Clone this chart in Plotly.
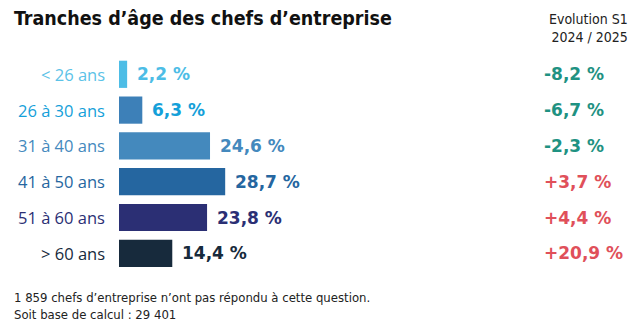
import plotly.graph_objects as go

# Age bands of company heads, share of respondents and change S1 2024 -> S1 2025
categories = ["< 26 ans", "26 à 30 ans", "31 à 40 ans", "41 à 50 ans", "51 à 60 ans", "> 60 ans"]
shares = [2.2, 6.3, 24.6, 28.7, 23.8, 14.4]
changes = [-8.2, -6.7, -2.3, 3.7, 4.4, 20.9]

bar_colors = ["#4dbde6", "#3d80b8", "#4489bd", "#2566a0", "#2b2f74", "#172a3c"]
value_colors = ["#4dbde6", "#14a0d9", "#4489bd", "#2566a0", "#2b2f74", "#172a3c"]
cat_colors = ["#5bc2e7", "#14a0d9", "#4489bd", "#2566a0", "#2b2f74", "#172a3c"]
GREEN = "#1f9282"
RED = "#e0505a"

title = "Tranches d’âge des chefs d’entreprise"
header = "Evolution S1<br>2024 / 2025"
footnote = "1 859 chefs d’entreprise n’ont pas répondu à cette question.<br>Soit base de calcul : 29 401"

W, H = 640, 333
X0 = 119          # pixel where the bars start
PX_PER_UNIT = 3.7
ROW_TOP = 74.3    # pixel centre of the first row
ROW_PITCH = 35.8

def fr(v):
    return f"{v:.1f}".replace(".", ",")

fig = go.Figure(go.Bar(
    x=shares, y=categories, orientation="h",
    marker=dict(color=bar_colors, line=dict(width=0)),
    width=0.76, hoverinfo="skip",
))

ann = []
cat_font = "Open Sans, Lato, sans-serif"
num_font = "DejaVu Sans, sans-serif"
for c, v, d, cc, vc in zip(categories, shares, changes, cat_colors, value_colors):
    ann.append(dict(x=0, y=c, xref="x", yref="y", text=c, showarrow=False,
                    xanchor="right", yanchor="middle", xshift=-12,
                    font=dict(family=cat_font, size=16.5, color=cc)))
    ann.append(dict(x=v, y=c, xref="x", yref="y", text=f"<b>{fr(v)} %</b>", showarrow=False,
                    xanchor="left", yanchor="middle", xshift=8,
                    font=dict(family=num_font, size=17, color=vc)))
    sign = "+" if d > 0 else "-"
    ann.append(dict(x=542 / W, y=c, xref="paper", yref="y", text=f"<b>{sign}{fr(abs(d))} %</b>",
                    showarrow=False, xanchor="left", yanchor="middle",
                    font=dict(family=num_font, size=17, color=RED if d > 0 else GREEN)))

cond = "Liberation Sans Narrow, DejaVu Sans Condensed, Roboto, sans-serif"
ann.append(dict(x=12 / W, y=1 - 18 / H, xref="paper", yref="paper", text=f"<b>{title}</b>",
                showarrow=False, xanchor="left", yanchor="middle",
                font=dict(family=cond, size=19.5, color="#111111")))
ann.append(dict(x=630 / W, y=1 - 28 / H, xref="paper", yref="paper", text=header,
                showarrow=False, xanchor="right", yanchor="middle", align="right",
                font=dict(family=cond, size=14, color="#222222")))
ann.append(dict(x=12 / W, y=1 - 306 / H, xref="paper", yref="paper", text=footnote,
                showarrow=False, xanchor="left", yanchor="middle", align="left",
                font=dict(family=cond, size=13, color="#222222")))

y_top = -ROW_TOP / ROW_PITCH
y_bot = (H - ROW_TOP) / ROW_PITCH

fig.update_layout(
    width=W, height=H, margin=dict(l=0, r=0, t=0, b=0),
    paper_bgcolor="white", plot_bgcolor="white", showlegend=False,
    xaxis=dict(domain=[X0 / W, 1], range=[0, (W - X0) / PX_PER_UNIT],
               visible=False, fixedrange=True),
    yaxis=dict(type="category", categoryorder="array", categoryarray=categories,
               range=[y_bot, y_top], visible=False, fixedrange=True),
    annotations=ann,
)

fig.write_html("out.html")
